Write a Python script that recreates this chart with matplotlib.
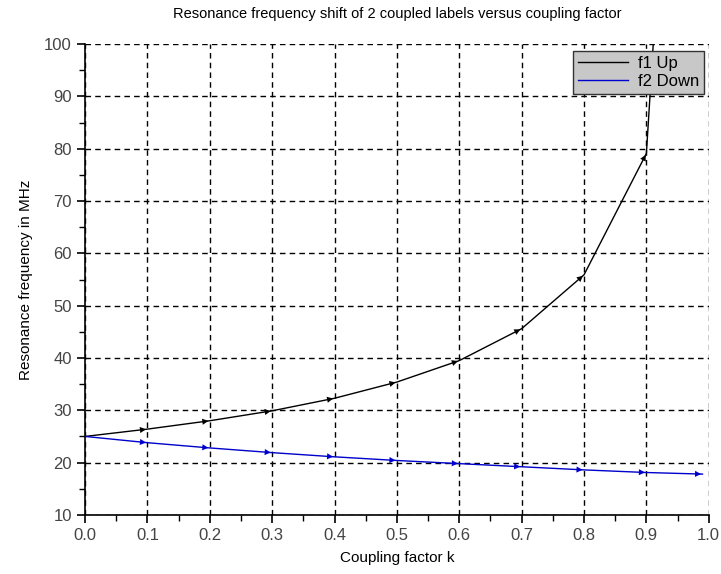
import matplotlib
matplotlib.use("Agg")
import matplotlib.pyplot as plt
from matplotlib.ticker import MultipleLocator

plt.rcParams['font.family'] = ['Liberation Sans', 'DejaVu Sans']

# Kopplungsfaktor k und Resonanzfrequenzen
k = [0.0, 0.1, 0.2, 0.3, 0.4, 0.5, 0.6, 0.7, 0.8, 0.9, 0.99]
f1_up = [25.0, 26.4, 28.0, 29.9, 32.3, 35.4, 39.5, 45.6, 55.9, 79.1, 250.0]
f2_down = [25.0, 23.8, 22.8, 21.9, 21.1, 20.4, 19.8, 19.2, 18.6, 18.1, 17.8]

series = [("f1 Up", f1_up, "black"), ("f2 Down", f2_down, "#0000cc")]

fig = plt.figure(figsize=(7.21, 5.74), dpi=100)
ax = fig.add_axes([0.118, 0.103, 0.865, 0.820])

for label, vals, col in series:
    ax.plot(k, vals, color=col, lw=1.0, label=label, zorder=3)
    # Pfeilspitzen am Ende jedes Segments
    for i in range(len(k) - 1):
        ax.annotate("", xy=(k[i + 1], vals[i + 1]), xytext=(k[i], vals[i]),
                    arrowprops=dict(arrowstyle="-|>", color=col, lw=0.0,
                                    mutation_scale=11, shrinkA=0, shrinkB=1),
                    annotation_clip=True, zorder=4)

ax.set_xlim(0.0, 1.0)
ax.set_ylim(10, 100)
ax.xaxis.set_major_locator(MultipleLocator(0.1))
ax.xaxis.set_minor_locator(MultipleLocator(0.05))
ax.yaxis.set_major_locator(MultipleLocator(10))
ax.yaxis.set_minor_locator(MultipleLocator(5))
ax.xaxis.set_major_formatter(matplotlib.ticker.FormatStrFormatter("%.1f"))

for s in ["top", "right"]:
    ax.spines[s].set_visible(False)
ax.spines["left"].set_linewidth(1.2)
ax.spines["bottom"].set_linewidth(1.2)
ax.tick_params(which="major", direction="out", length=6, width=1.2,
               labelsize=12, labelcolor="#444444")
ax.tick_params(which="minor", direction="out", length=4, width=1.0)

ax.grid(True, which="major", color="black", linestyle=(0, (4, 3)), lw=1.0)

ax.set_title("Resonance frequency shift of 2 coupled labels versus coupling factor",
             fontsize=10.5, pad=19)
ax.set_xlabel("Coupling factor k", fontsize=11, labelpad=6)
ax.set_ylabel("Resonance frequency in MHz", fontsize=11, labelpad=8)

leg = ax.legend(loc="upper right", bbox_to_anchor=(0.993, 0.985), fontsize=12,
                fancybox=False, framealpha=1.0, handlelength=3.0,
                borderpad=0.3, labelspacing=0.15, handletextpad=0.6,
                borderaxespad=0.0)
leg.get_frame().set_facecolor("#c8c8c8")
leg.get_frame().set_edgecolor("#333333")
leg.get_frame().set_linewidth(1.0)

fig.savefig("out.png", dpi=100)
